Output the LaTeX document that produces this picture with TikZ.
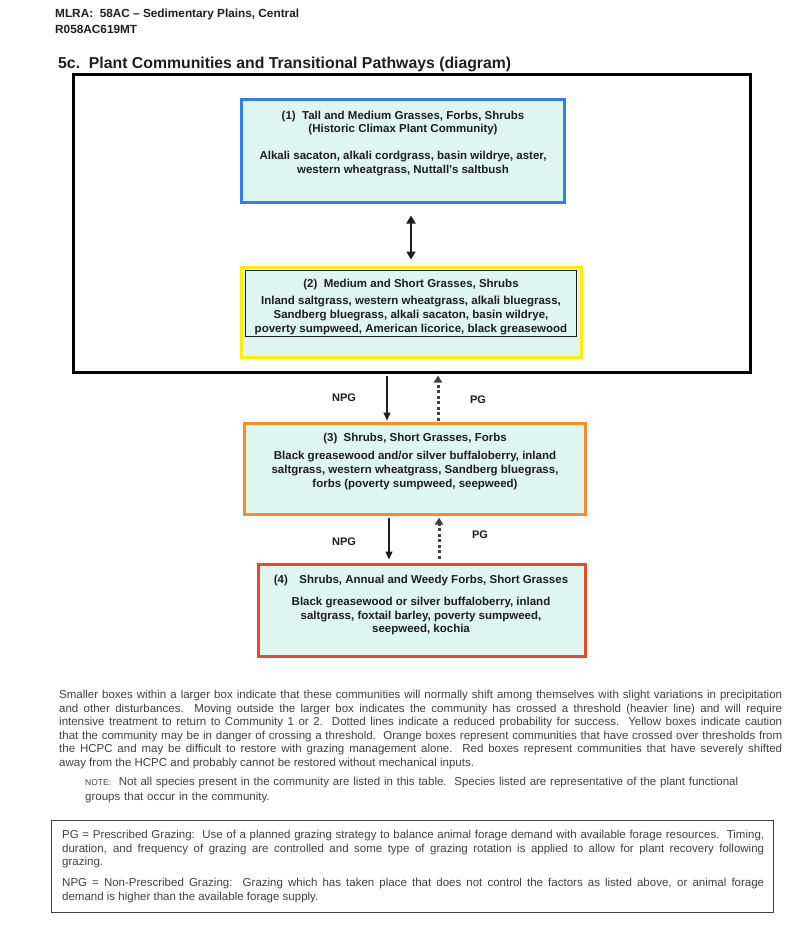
\documentclass[tikz,border=0pt]{standalone}
\usepackage{fontspec}
\setmainfont{Liberation Sans}
\usetikzlibrary{arrows.meta}
\definecolor{boxfill}{RGB}{222,245,240}
\definecolor{cblue}{RGB}{50,128,228}
\definecolor{cyellow}{RGB}{252,238,10}
\definecolor{corange}{RGB}{245,142,36}
\definecolor{cred}{RGB}{234,74,38}
\definecolor{ink}{RGB}{30,30,30}
\begin{document}
\begin{tikzpicture}[x=1pt,y=-1pt,
  every node/.style={inner sep=0pt, text=ink},
  cbox/.style={draw, line width=3pt, fill=boxfill},
  btext/.style={anchor=north, align=center, font=\bfseries\fontsize{11.5}{14}\selectfont},
  lbl/.style={font=\bfseries\fontsize{11}{12}\selectfont},
  npg/.style={line width=1.4pt, draw=ink, -{Triangle[length=8pt,width=7pt]}},
  pg/.style={line width=3pt, draw=ink!85, dash pattern=on 3pt off 2.5pt, -{Triangle[length=7pt,width=8pt]}},
  body/.style={font=\fontsize{11.5}{13.5}\selectfont, text=ink!85}]
\useasboundingbox (0,0) rectangle (800,934);
\fill[white] (0,0) rectangle (800,934);

% header
\node[anchor=base west, font=\bfseries\fontsize{11.8}{13}\selectfont] (h1) at (55,18) {MLRA:\ \ 58AC -- Sedimentary Plains, Central};
\node[anchor=base west, font=\bfseries\fontsize{11.8}{13}\selectfont] (h2) at (55,33.5) {R058AC619MT};
\node[anchor=base west, font=\bfseries\fontsize{15.8}{18}\selectfont] (title) at (58,68.5) {5c.\ \ Plant Communities and Transitional Pathways (diagram)};

% big threshold box
\node[draw, line width=3pt, minimum width=677pt, minimum height=298pt] (big) at (411.5,223.5) {};

% box 1
\node[cbox, draw=cblue, minimum width=323pt, minimum height=103pt] (b1) at (403,151) {};
\node[btext] (t1) at (403,110.5) {(1)\ \ Tall and Medium Grasses, Forbs, Shrubs\\[-1pt](Historic Climax Plant Community)\\[13pt]Alkali sacaton, alkali cordgrass, basin wildrye, aster,\\western wheatgrass, Nuttall's saltbush};

% box 2
\node[cbox, draw=cyellow, minimum width=340pt, minimum height=90pt] (b2) at (411.5,312.5) {};
\node[draw=ink, line width=1.8pt, fill=boxfill, minimum width=331pt, minimum height=66pt] (b2i) at (411,303.5) {};
\node[btext] (t2) at (411,278.5) {(2)\ \ Medium and Short Grasses, Shrubs\\[3pt]Inland saltgrass, western wheatgrass, alkali bluegrass,\\Sandberg bluegrass, alkali sacaton, basin wildrye,\\poverty sumpweed, American licorice, black greasewood};

% box 3
\node[cbox, draw=corange, minimum width=341pt, minimum height=91pt] (b3) at (415,469) {};
\node[btext] (t3) at (415,432.5) {(3)\ \ Shrubs, Short Grasses, Forbs\\[4pt]Black greasewood and/or silver buffaloberry, inland\\saltgrass, western wheatgrass, Sandberg bluegrass,\\forbs (poverty sumpweed, seepweed)};

% box 4
\node[cbox, draw=cred, minimum width=327pt, minimum height=92pt] (b4) at (422,610.5) {};
\node[btext] (t4) at (421,574.5) {(4)\quad Shrubs, Annual and Weedy Forbs, Short Grasses\\[8pt]Black greasewood or silver buffaloberry, inland\\saltgrass, foxtail barley, poverty sumpweed,\\[-1pt]seepweed, kochia};

% connectors
\coordinate (xe) at (411,0);
\coordinate (xa) at (387,0);
\coordinate (xb) at (438,0);
\coordinate (xc) at (389,0);
\coordinate (xd) at (439,0);
\draw[line width=2.6pt, draw=ink, {Triangle[length=8pt,width=9pt]}-{Triangle[length=8pt,width=9pt]}, shorten <=11.5pt, shorten >=6.5pt] (b1.south -| xe) -- (b2.north -| xe);
\draw[npg, shorten <=1.5pt, shorten >=1.5pt] (big.south -| xa) -- (b3.north -| xa);
\draw[pg, shorten <=1.5pt, shorten >=1.5pt] (b3.north -| xb) -- (big.south -| xb);
\draw[npg, shorten <=1.5pt, shorten >=3.5pt] (b3.south -| xc) -- (b4.north -| xc);
\draw[pg, shorten <=4.5pt, shorten >=1.5pt] (b4.north -| xd) -- (b3.south -| xd);
\node[lbl] (l1) at (344,398) {NPG};
\node[lbl] (l2) at (478,400) {PG};
\node[lbl] (l3) at (344,542) {NPG};
\node[lbl] (l4) at (480,535) {PG};

% explanatory paragraph
\node[body, anchor=north west, text width=723pt, align=justify] (para) at (59,690) {Smaller boxes within a larger box indicate that these communities will normally shift among themselves with slight variations in precipitation\linebreak and other disturbances.\ \ Moving outside the larger box indicates the community has crossed a threshold (heavier line) and will require\linebreak intensive treatment to return to Community 1 or 2.\ \ Dotted lines indicate a reduced probability for success.\ \ Yellow boxes indicate caution\linebreak that the community may be in danger of crossing a threshold.\ \ Orange boxes represent communities that have crossed over thresholds from\linebreak the HCPC and may be difficult to restore with grazing management alone.\ \ Red boxes represent communities that have severely shifted\linebreak away from the HCPC and probably cannot be restored without mechanical inputs.};

\node[body, anchor=north west, text width=700pt, align=left] (note) at (85,777) {{\fontsize{8.5}{10}\selectfont NOTE:}\ \ Not all species present in the community are listed in this table.\ \ Species listed are representative of the plant functional\\[1pt]groups that occur in the community.};

% legend box
\node[draw=ink!85, line width=1.3pt, minimum width=722pt, minimum height=92pt] (legend) at (412.5,866.5) {};
\node[body, anchor=north west, text width=702pt, align=justify] (legtext) at (62,830) {PG = Prescribed Grazing:\ \ Use of a planned grazing strategy to balance animal forage demand with available forage resources.\ \ Timing,\linebreak duration, and frequency of grazing are controlled and some type of grazing rotation is applied to allow for plant recovery following\linebreak grazing.\par\vspace{7.5pt}NPG = Non-Prescribed Grazing:\ \ Grazing which has taken place that does not control the factors as listed above, or animal forage\linebreak demand is higher than the available forage supply.};
\end{tikzpicture}
\end{document}
